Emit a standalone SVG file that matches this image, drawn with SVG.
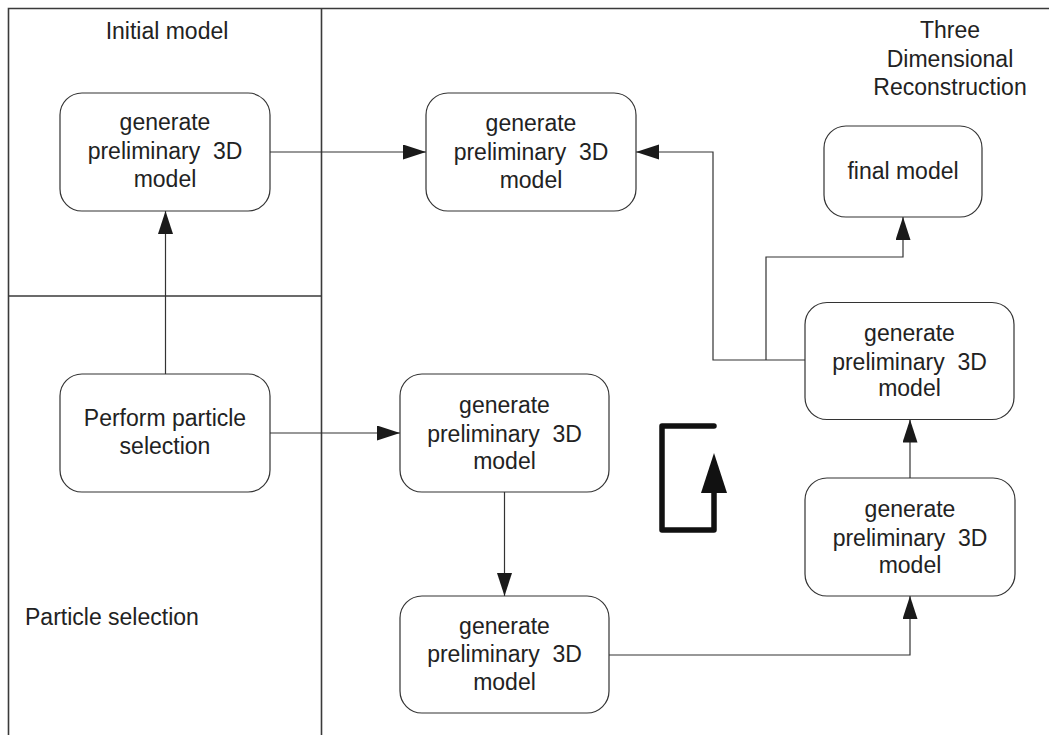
<svg xmlns="http://www.w3.org/2000/svg" width="1049" height="735" viewBox="0 0 1049 735">
<defs>
<style>
.frame{stroke:#3a3a3a;stroke-width:1.6;fill:none}
.node rect{fill:#fff;stroke:#333;stroke-width:1.2}
text{font-family:"Liberation Sans",Arial,sans-serif;font-size:23px;fill:#222}
.node text{text-anchor:middle}
.conn{fill:none;stroke:#333;stroke-width:1.2}
</style>
<marker id="arr" markerUnits="userSpaceOnUse" markerWidth="24" markerHeight="16" refX="23" refY="7.5" orient="auto">
<path d="M0,0 L23,7.5 L0,15 z" fill="#1a1a1a"/>
</marker>
</defs>
<rect width="1049" height="735" fill="#fff"/>
<g id="frame">
<path class="frame" d="M8.5,735 V8.5 H1049"/>
<path class="frame" d="M321.5,8.5 V735"/>
<path class="frame" d="M8.5,296 H321.5"/>
</g>
<g id="lane-labels">
<text x="167" y="39" text-anchor="middle">Initial model</text>
<text x="25" y="625">Particle selection</text>
<text x="950" y="38" text-anchor="middle">Three</text>
<text x="950" y="66.5" text-anchor="middle">Dimensional</text>
<text x="950" y="95" text-anchor="middle">Reconstruction</text>
</g>
<g id="connectors">
<path class="conn" d="M270,152 H426" marker-end="url(#arr)"/>
<path class="conn" d="M165.5,374 V211" marker-end="url(#arr)"/>
<path class="conn" d="M270,433 H400" marker-end="url(#arr)"/>
<path class="conn" d="M504.5,492 V596" marker-end="url(#arr)"/>
<path class="conn" d="M609,655 H910 V596" marker-end="url(#arr)"/>
<path class="conn" d="M910,478 V419.5" marker-end="url(#arr)"/>
<path class="conn" d="M805,360 H713 V152 H636" marker-end="url(#arr)"/>
<path class="conn" d="M766,360 V257 H903 V217" marker-end="url(#arr)"/>
</g>
<g id="loop-icon">
<path d="M714,426 H662 V530 H714 V490" fill="none" stroke="#111" stroke-width="5.5" stroke-linejoin="round" stroke-linecap="round"/>
<path d="M701,493 L714,453 L727,493 z" fill="#111"/>
</g>
<g id="n1" class="node">
<rect x="60" y="93" width="210" height="118" rx="22"/>
<text x="165" y="130">generate</text>
<text x="165" y="159" xml:space="preserve">preliminary  3D</text>
<text x="165" y="187">model</text>
</g>
<g id="n2" class="node">
<rect x="426" y="93" width="210" height="118" rx="22"/>
<text x="531" y="131">generate</text>
<text x="531" y="160" xml:space="preserve">preliminary  3D</text>
<text x="531" y="187.5">model</text>
</g>
<g id="n-perform" class="node">
<rect x="60" y="374" width="210" height="118" rx="22"/>
<text x="165" y="425.5">Perform particle</text>
<text x="165" y="453.5">selection</text>
</g>
<g id="n3" class="node">
<rect x="400" y="374" width="209" height="118" rx="22"/>
<text x="504.5" y="412.5">generate</text>
<text x="504.5" y="441.5" xml:space="preserve">preliminary  3D</text>
<text x="504.5" y="468.5">model</text>
</g>
<g id="n4" class="node">
<rect x="400" y="596" width="209" height="117" rx="22"/>
<text x="504.5" y="633.5">generate</text>
<text x="504.5" y="662" xml:space="preserve">preliminary  3D</text>
<text x="504.5" y="690">model</text>
</g>
<g id="n5" class="node">
<rect x="805" y="478" width="210" height="118" rx="22"/>
<text x="910" y="516.5">generate</text>
<text x="910" y="546" xml:space="preserve">preliminary  3D</text>
<text x="910" y="573">model</text>
</g>
<g id="n6" class="node">
<rect x="805" y="302.5" width="209" height="117" rx="22"/>
<text x="909.5" y="340.5">generate</text>
<text x="909.5" y="369.5" xml:space="preserve">preliminary  3D</text>
<text x="909.5" y="396">model</text>
</g>
<g id="n-final" class="node">
<rect x="824" y="126" width="158" height="91" rx="22"/>
<text x="903" y="179">final model</text>
</g>
</svg>
